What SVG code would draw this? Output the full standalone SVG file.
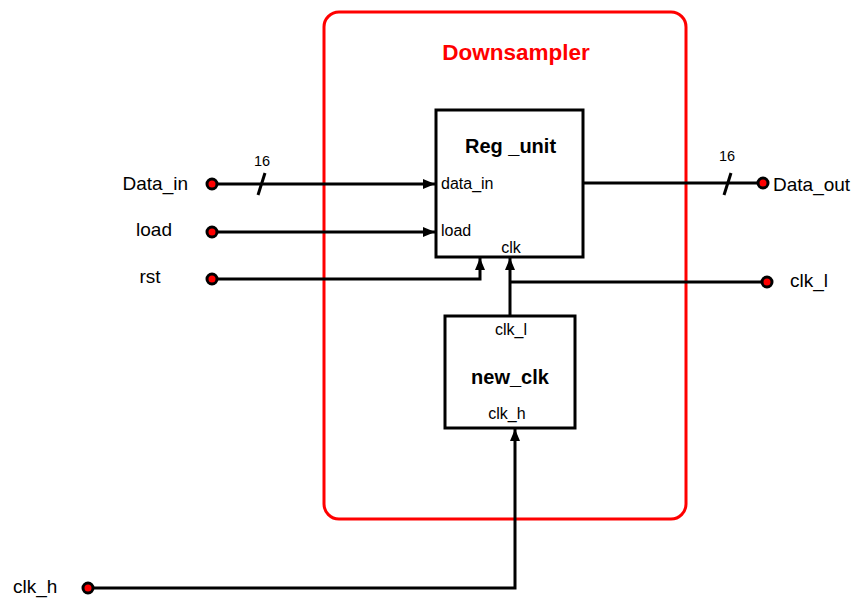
<svg xmlns="http://www.w3.org/2000/svg" width="855" height="599" viewBox="0 0 855 599">
<style>
text{font-family:"Liberation Sans",Arial,sans-serif;fill:#000}
.lbl{font-size:19px}
.port{font-size:16px}
.num{font-size:14.5px}
.title{font-size:20px;font-weight:bold}
.box{fill:#fff;stroke:#000;stroke-width:3}
.wire{fill:none;stroke:#000;stroke-width:3}
.pin{fill:#f00;stroke:#000;stroke-width:3}
</style>
<defs>
<marker id="arr" viewBox="0 0 12 10" refX="12" refY="5" markerWidth="12" markerHeight="10" markerUnits="userSpaceOnUse" orient="auto">
<path d="M0,0 L12,5 L0,10 Z" fill="#000"/>
</marker>
</defs>
<g id="downsampler">
<rect x="324" y="12" width="362" height="507" rx="15" fill="none" stroke="#f00" stroke-width="3"/>
<text x="516" y="60" text-anchor="middle" style="font-size:22.5px;font-weight:bold;fill:#f00">Downsampler</text>
</g>
<g id="connectors">
<path class="wire" d="M212,184 H435" marker-end="url(#arr)"/>
<path class="wire" d="M212,232 H435" marker-end="url(#arr)"/>
<path class="wire" d="M212,279 H480 V258" marker-end="url(#arr)"/>
<path class="wire" d="M510,316 V258" marker-end="url(#arr)"/>
<path class="wire" d="M510,282 H767"/>
<path class="wire" d="M583,183 H763"/>
<path class="wire" d="M88,588 H515 V429" marker-end="url(#arr)"/>
<path class="wire" d="M258,195 L265,173"/>
<path class="wire" d="M724,195 L731,173"/>
<text x="262" y="166" text-anchor="middle" class="num">16</text>
<text x="727" y="161" text-anchor="middle" class="num">16</text>
</g>
<g id="reg_unit">
<rect class="box" x="436" y="110" width="147" height="147"/>
<text x="510.5" y="153" text-anchor="middle" class="title">Reg _unit</text>
<text x="441" y="189" class="port">data_in</text>
<text x="441" y="236" class="port">load</text>
<text x="511" y="253" text-anchor="middle" class="port">clk</text>
</g>
<g id="new_clk">
<rect class="box" x="445" y="316" width="130" height="112"/>
<text x="511" y="335" text-anchor="middle" class="port">clk_l</text>
<text x="510" y="384" text-anchor="middle" class="title">new_clk</text>
<text x="507" y="419" text-anchor="middle" class="port">clk_h</text>
</g>
<g id="pin_data_in">
<circle class="pin" cx="212" cy="184" r="5"/>
<text x="188" y="190" text-anchor="end" class="lbl">Data_in</text>
</g>
<g id="pin_load">
<circle class="pin" cx="212" cy="232" r="5"/>
<text x="154" y="236" text-anchor="middle" class="lbl">load</text>
</g>
<g id="pin_rst">
<circle class="pin" cx="212" cy="279" r="5"/>
<text x="150" y="283" text-anchor="middle" class="lbl">rst</text>
</g>
<g id="pin_data_out">
<circle class="pin" cx="763" cy="183" r="5"/>
<text x="773" y="191" class="lbl">Data_out</text>
</g>
<g id="pin_clk_l">
<circle class="pin" cx="767" cy="282" r="5"/>
<text x="790" y="287" class="lbl">clk_l</text>
</g>
<g id="pin_clk_h">
<circle class="pin" cx="88" cy="588" r="5"/>
<text x="13" y="593" class="lbl">clk_h</text>
</g>
</svg>
